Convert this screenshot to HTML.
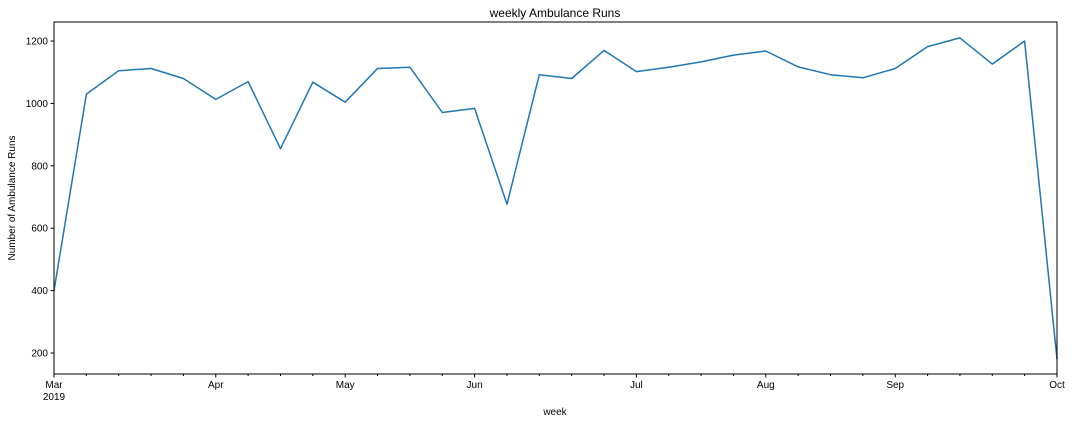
<!DOCTYPE html>
<html><head><meta charset="utf-8"><style>
body{margin:0;background:#fff;}
svg text{font-family:"Liberation Sans",sans-serif;fill:#000;}
</style></head><body>
<svg id="chart" width="1072" height="424" xmlns="http://www.w3.org/2000/svg">
<rect width="1072" height="424" fill="#fff"/>
<text x="555" y="17" font-size="12" text-anchor="middle">weekly Ambulance Runs</text>
<text transform="translate(15,198) rotate(-90)" font-size="10" text-anchor="middle">Number of Ambulance Runs</text>
<text x="555" y="415" font-size="10" text-anchor="middle">week</text>
<g id="ticks"></g>
<polyline id="line" fill="none" stroke="#1f77b4" stroke-width="1.5" stroke-linejoin="round"/>
<rect x="54" y="22" width="1003" height="352" fill="none" stroke="#000" stroke-width="1"/>
</svg>
<script>
const weekValues = [400,1030,1105,1112,1080,1013,1070,855,1068,1004,1112,1116,971,984,677,1092,1080,1170,1102,1116,1133,1155,1168,1117,1092,1082,1112,1182,1210,1126,1200,180];
const monthLabels = ["Mar","Apr","May","Jun","Jul","Aug","Sep","Oct"];
const monthWeekIdx = [0,5,9,13,18,22,26,31];
const yTicks = [200,400,600,800,1000,1200];
const L=54,R=1057,T=22,B=374,yMin=132.7,yMax=1261;
const NS="http://www.w3.org/2000/svg";
const xs=i=>L+(R-L)*i/(weekValues.length-1);
const ys=v=>B-(v-yMin)/(yMax-yMin)*(B-T);
const g=document.getElementById('ticks');
function el(tag,attrs,txt){const e=document.createElementNS(NS,tag);for(const k in attrs)e.setAttribute(k,attrs[k]);if(txt!==undefined)e.textContent=txt;g.appendChild(e);return e;}
yTicks.forEach(v=>{
  const t=el('line',{x1:L-3.5,x2:L,y1:ys(v),y2:ys(v),stroke:'#000'});
  
  
  const l=el('text',{x:L-6,y:ys(v)+3.5,'font-size':10,'text-anchor':'end'},String(v));
  
  
});
for(let i=0;i<weekValues.length;i++){
  const major=monthWeekIdx.includes(i);
  const t=el('line',{x1:xs(i),x2:xs(i),y1:B,y2:B+(major?3.5:2),stroke:'#000'});
  
  
}
monthLabels.forEach((m,j)=>{
  const l=el('text',{x:xs(monthWeekIdx[j]),y:B+14,'font-size':10,'text-anchor':'middle'},m);
  
  
});
const yr=el('text',{x:xs(0),y:B+26,'font-size':10,'text-anchor':'middle'},'2019');


document.getElementById('line').setAttribute('points',weekValues.map((v,i)=>xs(i).toFixed(1)+','+ys(v).toFixed(1)).join(' '));
</script>
</body></html>
